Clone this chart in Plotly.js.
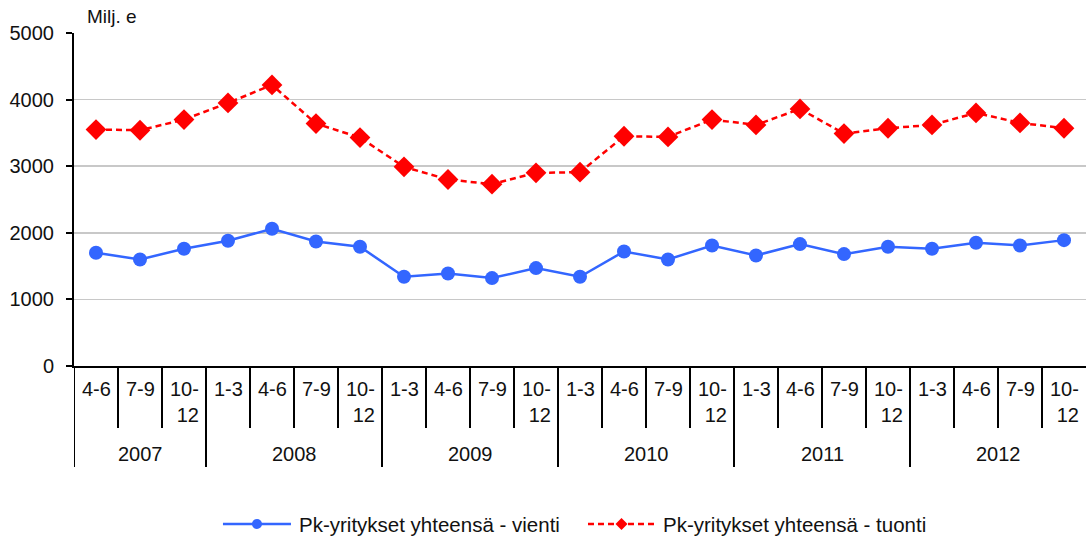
<!DOCTYPE html>
<html><head><meta charset="utf-8">
<script src="https://cdn.plot.ly/plotly-3.0.1.min.js"></script>
<style>html,body{margin:0;padding:0;background:#fff}#chart{width:1089px;height:537px}</style>
</head><body><div id="chart"></div>
<script>
const years = ['2007','2008','2009','2010','2011','2012'];
const quartersPerYear = [3,4,4,4,4,4];
const quarters = ['4-6','7-9','10-<br>12',
  '1-3','4-6','7-9','10-<br>12',
  '1-3','4-6','7-9','10-<br>12',
  '1-3','4-6','7-9','10-<br>12',
  '1-3','4-6','7-9','10-<br>12',
  '1-3','4-6','7-9','10-<br>12'];
const vienti = [1700,1600,1760,1880,2060,1870,1790,1340,1390,1320,1470,1340,1720,1600,1810,1660,1830,1680,1790,1760,1850,1810,1890];
const tuonti = [3550,3540,3700,3950,4220,3640,3430,2990,2800,2730,2900,2910,3450,3440,3700,3620,3860,3490,3570,3620,3800,3650,3570];
const seriesNames = ['Pk-yritykset yhteensä - vienti','Pk-yritykset yhteensä - tuonti'];
const unitLabel = 'Milj. e';

const FONT = 'Liberation Sans, Arial, sans-serif';
const TXT = '#111';
const BLUE = '#3366ff', RED = '#ff0000';
const xs = quarters.map((q,i)=>i);

const traces = [
  {x: xs, y: vienti, name: seriesNames[0], type:'scatter', mode:'lines+markers',
   line:{color:BLUE, width:2.5}, marker:{symbol:'circle', size:14, color:BLUE}},
  {x: xs, y: tuonti, name: seriesNames[1], type:'scatter', mode:'lines+markers',
   line:{color:RED, width:2.5, dash:'6px,4px'}, marker:{symbol:'diamond', size:16, color:RED}}
];

const shapes = [];
const annotations = [];
quarters.forEach((q,i)=>{
  shapes.push({type:'line', xref:'x', yref:'paper', x0:i-0.5, x1:i-0.5, y0:0, y1:-0.186,
    line:{color:'#000', width:2}});
  annotations.push({xref:'x', yref:'paper', x:i, y:-0.03, yanchor:'top', xanchor:'center',
    text:q, showarrow:false, font:{family:FONT, size:20, color:TXT}, align:'right'});
});
let start = 0;
years.forEach((yr,k)=>{
  const n = quartersPerYear[k];
  shapes.push({type:'line', xref:'x', yref:'paper', x0:start-0.5, x1:start-0.5, y0:0, y1:-0.303,
    line:{color:'#000', width:2}});
  annotations.push({xref:'x', yref:'paper', x:start+(n-1)/2, y:-0.264, yanchor:'middle', xanchor:'center',
    text:yr, showarrow:false, font:{family:FONT, size:20, color:TXT}});
  start += n;
});
annotations.push({xref:'paper', yref:'paper', x:0.011, y:1.05, xanchor:'left', yanchor:'middle',
  text:unitLabel, showarrow:false, font:{family:FONT, size:19, color:TXT}});

// custom legend (line sample + marker + label), placed in paper coordinates
const LEG_Y = -0.4745;
const legendItems = [
  {name:seriesNames[0], color:BLUE, dash:'solid', sym:'circle', x0:0.1472, x1:0.2144, xt:0.2204},
  {name:seriesNames[1], color:RED, dash:'6px,4px', sym:'diamond', x0:0.5079, x1:0.5741, xt:0.5800}
];
legendItems.forEach(it=>{
  shapes.push({type:'line', xref:'paper', yref:'paper', x0:it.x0, x1:it.x1, y0:LEG_Y, y1:LEG_Y,
    line:{color:it.color, width:2.5, dash:it.dash}});
  const xc = (it.x0+it.x1)/2;
  if (it.sym === 'circle') {
    shapes.push({type:'circle', xref:'paper', yref:'paper', xsizemode:'pixel', ysizemode:'pixel',
      xanchor:xc, yanchor:LEG_Y, x0:-5, x1:5, y0:-5, y1:5,
      fillcolor:it.color, line:{color:it.color, width:0}});
  } else {
    shapes.push({type:'path', xref:'paper', yref:'paper', xsizemode:'pixel', ysizemode:'pixel',
      xanchor:xc, yanchor:LEG_Y, path:'M0,-6 L6,0 L0,6 L-6,0 Z',
      fillcolor:it.color, line:{color:it.color, width:0}});
  }
  annotations.push({xref:'paper', yref:'paper', x:it.xt, y:LEG_Y, xanchor:'left', yanchor:'middle',
    text:it.name, showarrow:false, font:{family:FONT, size:20.5, color:TXT}});
});

const layout = {
  width:1089, height:537,
  margin:{l:74, r:3, t:33, b:171, autoexpand:false},
  paper_bgcolor:'#fff', plot_bgcolor:'#fff',
  font:{family:FONT, size:20, color:TXT},
  showlegend:false,
  xaxis:{range:[-0.5, 22.5], showgrid:false, zeroline:false, showticklabels:false, ticks:'',
    showline:true, linecolor:'#000', linewidth:2, fixedrange:true},
  yaxis:{range:[0,5000], dtick:1000, showgrid:true, gridcolor:'#c8c8c8', gridwidth:1.5,
    zeroline:false, showline:true, linecolor:'#000', linewidth:2,
    ticks:'outside', ticklen:6, tickwidth:2, tickcolor:'#000', ticklabelstandoff:8,
    tickfont:{family:FONT, size:20, color:TXT}},
  shapes: shapes,
  annotations: annotations
};
Plotly.newPlot('chart', traces, layout, {displayModeBar:false, staticPlot:true});
</script></body></html>
